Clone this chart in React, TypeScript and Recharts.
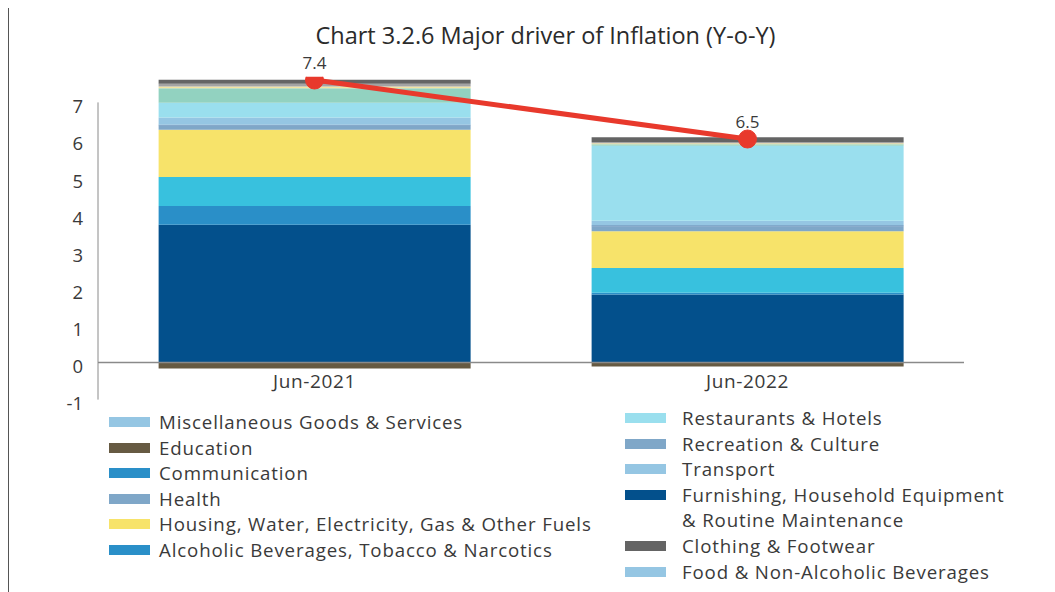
import { Bar, ComposedChart, LabelList, Line, ReferenceLine, XAxis, YAxis } from "recharts";

const periods = ["Jun-2021", "Jun-2022"];

// stacked contributions, bottom to top
const furnishing = [3.71, 1.83];
const alcoholic = [0.51, 0.05];
const food = [0.78, 0.67];
const housing = [1.27, 0.99];
const health = [0.12, 0.13];
const recreation = [0.02, 0.03];
const transport = [0.19, 0.12];
const restaurants = [0.4, 2.02];
const misc = [0.39, 0.04];
const communication = [0.05, 0.03];
const others = [0.07, 0.03];
const clothing = [0.11, 0.13];
const education = [-0.16, -0.11];

const headline = [7.4, 6.5];
const yTicks = [-1, 0, 1, 2, 3, 4, 5, 6, 7];

const legendLeft = [
  "Miscellaneous Goods & Services",
  "Education",
  "Communication",
  "Health",
  "Housing, Water, Electricity, Gas & Other Fuels",
  "Alcoholic Beverages, Tobacco & Narcotics",
];
const legendLeftColors = ["#95c6e3", "#665a42", "#2a8fc8", "#7fa7c8", "#f7e36a", "#2a8fc8"];
const legendRight = [
  "Restaurants & Hotels",
  "Recreation & Culture",
  "Transport",
  "Furnishing, Household Equipment",
  "Clothing & Footwear",
  "Food & Non-Alcoholic Beverages",
];
const legendRightColors = ["#9adfee", "#7fa7c8", "#95c6e3", "#03508c", "#646464", "#95c6e3"];

const series = [
  { key: "furnishing", values: furnishing, color: "#03508c" },
  { key: "alcoholic", values: alcoholic, color: "#2a8fc8" },
  { key: "food", values: food, color: "#38c1de" },
  { key: "housing", values: housing, color: "#f7e36a" },
  { key: "health", values: health, color: "#7fa7c8" },
  { key: "recreation", values: recreation, color: "#4f80b2" },
  { key: "transport", values: transport, color: "#95c6e3" },
  { key: "restaurants", values: restaurants, color: "#9adfee" },
  { key: "misc", values: misc, color: "#92d2c0" },
  { key: "communication", values: communication, color: "#f2e3a0" },
  { key: "others", values: others, color: "#a3a3a3" },
  { key: "clothing", values: clothing, color: "#646464" },
  { key: "education", values: education, color: "#665a42" },
];

const data = periods.map((p, i) => {
  const row: Record<string, string | number> = { period: p, headline: headline[i] };
  series.forEach((s) => {
    row[s.key] = s.values[i];
  });
  return row;
});

const FONT = "'Open Sans', sans-serif";
const TEXT = "#3a3a3a";
const LEGEND_SIZE = 18.7;
const LEGEND_SPACING = 0.85;

function XTick(props: any) {
  const { x, y, payload } = props;
  return (
    <text x={x} y={y - 20} textAnchor="middle" fontSize={19} letterSpacing={0.6} fill={TEXT} fontFamily={FONT}>
      {payload.value}
    </text>
  );
}

function LegendRow(props: { name: string; color: string; x: number; cy: number; gap: number }) {
  const { name, color, x, cy, gap } = props;
  return (
    <div style={{ position: "absolute", left: x, top: cy - 11, height: 22, display: "flex", alignItems: "center" }}>
      <div style={{ width: 41, height: 10, background: color, marginRight: gap }} />
      <span
        style={{
          fontSize: LEGEND_SIZE,
          letterSpacing: LEGEND_SPACING,
          color: TEXT,
          whiteSpace: "nowrap",
          lineHeight: "22px",
        }}
      >
        {name}
      </span>
    </div>
  );
}

export default function App() {
  const leftRows = [414, 439.6, 465.2, 490.8, 516.4, 542];
  const rightRows = [410, 435.6, 461.2, 486.8, 538, 563.6];
  return (
    <div
      style={{
        position: "relative",
        width: 1047,
        height: 584,
        fontFamily: FONT,
        borderLeft: "1px solid #555",
        boxSizing: "border-box",
        background: "#fff",
      }}
    >
      <div
        style={{
          position: "absolute",
          left: 0,
          width: 1073,
          top: 17,
          height: 20,
          lineHeight: "20px",
          textAlign: "center",
          fontSize: 23.5,
          color: "#2b2b2b",
        }}
      >
        Chart 3.2.6 Major driver of Inflation (Y-o-Y)
      </div>
      <ComposedChart
        width={1047}
        height={584}
        data={data}
        stackOffset="sign"
        barCategoryGap="14%"
        margin={{ top: 68.8, right: 92, bottom: 162.4, left: 39 }}
      >
        <XAxis
          dataKey="period"
          axisLine={false}
          tickLine={false}
          height={30}
          tick={<XTick />}
        />
        <YAxis
          yAxisId="left"
          domain={[-1, 7.7]}
          ticks={yTicks}
          width={50}
          tickLine={false}
          tickMargin={9}
          axisLine={{ stroke: "#8a8a8a", strokeDasharray: "0 25.6 297.2 1000" }}
          tick={{ fontSize: 18.5, fill: TEXT, fontFamily: FONT, dy: 4 }}
          interval={0}
        />
        <YAxis yAxisId="right" orientation="right" hide domain={[2.525, 7.449]} allowDataOverflow />
        {series.map((s) => (
          <Bar
            key={s.key}
            yAxisId="left"
            dataKey={s.key}
            stackId="cpi"
            fill={s.color}
            isAnimationActive={false}
          />
        ))}
        <ReferenceLine yAxisId="left" y={0} stroke="#8a8a8a" strokeWidth={1.5} />
        <Line
          yAxisId="right"
          dataKey="headline"
          stroke="#e8392c"
          strokeWidth={5}
          dot={{ r: 9, fill: "#e8392c", stroke: "#e8392c", strokeWidth: 1 }}
          activeDot={false}
          isAnimationActive={false}
        >
          <LabelList dataKey="headline" position="top" offset={11} fontSize={17} fill={TEXT} fontFamily={FONT} />
        </Line>
      </ComposedChart>
      {legendLeft.map((n, i) => (
        <LegendRow key={n} name={n} color={legendLeftColors[i]} x={100} cy={leftRows[i]} gap={9} />
      ))}
      {legendRight.map((n, i) => (
        <LegendRow key={n} name={n} color={legendRightColors[i]} x={616} cy={rightRows[i]} gap={16} />
      ))}
      <div
        style={{
          position: "absolute",
          left: 673,
          top: 512.4 - 11,
          height: 22,
          lineHeight: "22px",
          fontSize: LEGEND_SIZE,
          letterSpacing: LEGEND_SPACING,
          color: TEXT,
          whiteSpace: "nowrap",
        }}
      >
        &amp; Routine Maintenance
      </div>
    </div>
  );
}
